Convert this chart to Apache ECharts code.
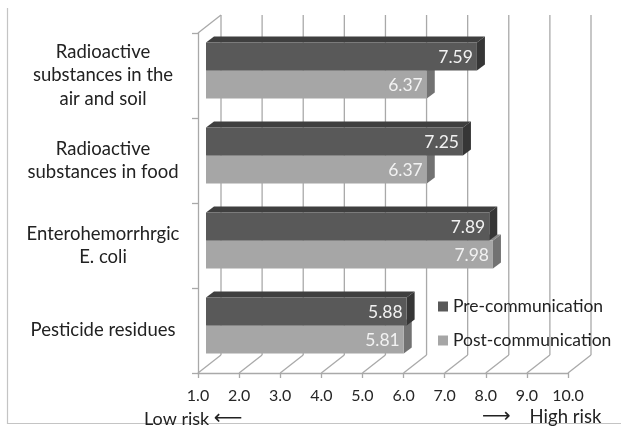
<!DOCTYPE html>
<html>
<head>
<meta charset="utf-8">
<script src="https://cdn.jsdelivr.net/npm/echarts@6/dist/echarts.min.js"></script>
<style>
  html, body { margin: 0; padding: 0; background: #fff; }
  #chart { width: 621px; height: 428px; }
</style>
</head>
<body>
<div id="chart"></div>
<script>
// Perceived risk scores (1 = low, 10 = high) before and after risk communication
const categories = [
  'Radioactive\nsubstances in the\nair and soil',
  'Radioactive\nsubstances in food',
  'Enterohemorrhrgic\nE. coli',
  'Pesticide residues'
];
const preValues = [7.59, 7.25, 7.89, 5.88];
const postValues = [6.37, 6.37, 7.98, 5.81];
const tickValues = [1, 2, 3, 4, 5, 6, 7, 8, 9, 10];
const seriesNames = ['Pre-communication', 'Post-communication'];

const FONT = 'Lato, "Open Sans", sans-serif';
const AXIS_MIN = 1, AXIS_MAX = 10;

// oblique projection of the chart box (back wall offset) and of the bars
const WALL_DX = 23, WALL_DY = -18;
const BAR_SHIFT_X = 8, BAR_SHIFT_Y = -5;
const BAR_DX = 8, BAR_DY = -6;

const palette = {
  pre:  { front: '#595959', top: '#3f3f3f', side: '#363636' },
  post: { front: '#a6a6a6', top: '#8a8a8a', side: '#727272' }
};

function makeBarRenderer(shade, upper) {
  return function (params, api) {
    const val = api.value(0);
    const cat = api.value(1);
    const start = api.coord([AXIS_MIN, cat]);
    const end = api.coord([val, cat]);
    const band = api.size([0, 1])[1];
    const barH = band * 0.33;
    const center = start[1] + BAR_SHIFT_Y;
    const yTop = upper ? center - barH : center;
    const yBot = upper ? center : center + barH;
    const x0 = start[0] + BAR_SHIFT_X;
    const x1 = end[0] + BAR_SHIFT_X;
    return {
      type: 'group',
      children: [
        {
          type: 'polygon',
          shape: { points: [[x0, yTop], [x0 + BAR_DX, yTop + BAR_DY], [x1 + BAR_DX, yTop + BAR_DY], [x1, yTop]] },
          style: { fill: shade.top }
        },
        {
          type: 'polygon',
          shape: { points: [[x1, yTop], [x1 + BAR_DX, yTop + BAR_DY], [x1 + BAR_DX, yBot + BAR_DY], [x1, yBot]] },
          style: { fill: shade.side }
        },
        {
          type: 'rect',
          shape: { x: x0, y: yTop, width: x1 - x0, height: yBot - yTop },
          style: { fill: shade.front }
        },
        {
          type: 'text',
          style: {
            text: val.toFixed(2),
            x: x1 - 4,
            y: (yTop + yBot) / 2 + 1,
            align: 'right',
            verticalAlign: 'middle',
            fill: '#f2f2f2',
            font: '17.5px ' + FONT
          }
        }
      ]
    };
  };
}

// back wall gridlines, floor diagonals and the upper-left edge of the box
function renderWalls(params, api) {
  const cs = params.coordSys;
  const v = api.value(0);
  const p = api.coord([v, 0]);
  const x = p[0];
  const floorY = cs.y + cs.height;
  const lineStyle = { stroke: '#a9a9a9', lineWidth: 1.3 };
  const children = [
    { type: 'line', shape: { x1: x + WALL_DX, y1: cs.y + WALL_DY, x2: x + WALL_DX, y2: floorY + WALL_DY }, style: lineStyle },
    { type: 'line', shape: { x1: x, y1: floorY, x2: x + WALL_DX, y2: floorY + WALL_DY }, style: lineStyle }
  ];
  if (v === AXIS_MIN) {
    children.push({ type: 'line', shape: { x1: x, y1: cs.y, x2: x + WALL_DX, y2: cs.y + WALL_DY }, style: lineStyle });
  }
  return { type: 'group', children: children };
}

const chart = echarts.init(document.getElementById('chart'));
chart.setOption({
  backgroundColor: '#ffffff',
  animation: false,
  grid: { left: 198, top: 33, width: 370, height: 340 },
  xAxis: {
    type: 'value',
    min: AXIS_MIN,
    max: AXIS_MAX,
    interval: 1,
    splitLine: { show: false },
    axisLine: { show: true, lineStyle: { color: '#a9a9a9', width: 1.3 } },
    axisTick: { show: true, length: 5, lineStyle: { color: '#a9a9a9', width: 1.3 } },
    axisLabel: {
      margin: 15,
      color: '#262626',
      fontSize: 16,
      fontFamily: FONT,
      formatter: function (v) { return v.toFixed(1); }
    }
  },
  yAxis: {
    type: 'category',
    inverse: true,
    data: categories,
    axisLine: { show: true, lineStyle: { color: '#a9a9a9', width: 1.3 } },
    axisTick: { show: true, length: 6, lineStyle: { color: '#a9a9a9', width: 1.3 } },
    axisLabel: {
      margin: 95,
      align: 'center',
      color: '#222',
      fontSize: 18.5,
      lineHeight: 23.5,
      fontFamily: FONT
    }
  },
  legend: {
    data: seriesNames,
    orient: 'vertical',
    left: 433,
    top: 291,
    itemWidth: 10,
    itemHeight: 10,
    itemGap: 13,
    icon: 'rect',
    textStyle: { color: '#222', fontSize: 17.5, fontFamily: FONT, lineHeight: 21 }
  },
  series: [
    {
      type: 'custom',
      name: 'walls',
      silent: true,
      z: 1,
      data: tickValues.map(function (v) { return [v, 0]; }),
      renderItem: renderWalls
    },
    {
      type: 'custom',
      name: seriesNames[1],
      z: 2,
      itemStyle: { color: palette.post.front },
      encode: { x: 0, y: 1 },
      data: postValues.map(function (v, i) { return [v, i]; }),
      renderItem: makeBarRenderer(palette.post, false)
    },
    {
      type: 'custom',
      name: seriesNames[0],
      z: 3,
      itemStyle: { color: palette.pre.front },
      encode: { x: 0, y: 1 },
      data: preValues.map(function (v, i) { return [v, i]; }),
      renderItem: makeBarRenderer(palette.pre, true)
    }
  ],
  graphic: [
    // outer chart-area frame (left and bottom edges)
    {
      type: 'polyline',
      shape: { points: [[7.5, 8], [7.5, 423.5], [621, 423.5]] },
      style: { stroke: '#c4c4c4', lineWidth: 1.2, fill: null }
    },
    {
      type: 'text',
      left: 144,
      top: 409,
      style: {
        text: 'Low risk {a|⟵}',
        font: '18px ' + FONT,
        fill: '#222',
        rich: { a: { fontFamily: 'DejaVu Sans', fontSize: 20, fill: '#222' } }
      }
    },
    {
      type: 'text',
      left: 482,
      top: 407,
      style: {
        text: '{a|⟶}    High risk',
        font: '18.5px ' + FONT,
        fill: '#222',
        rich: { a: { fontFamily: 'DejaVu Sans', fontSize: 20, fill: '#222' } }
      }
    }
  ]
});
</script>
</body>
</html>
